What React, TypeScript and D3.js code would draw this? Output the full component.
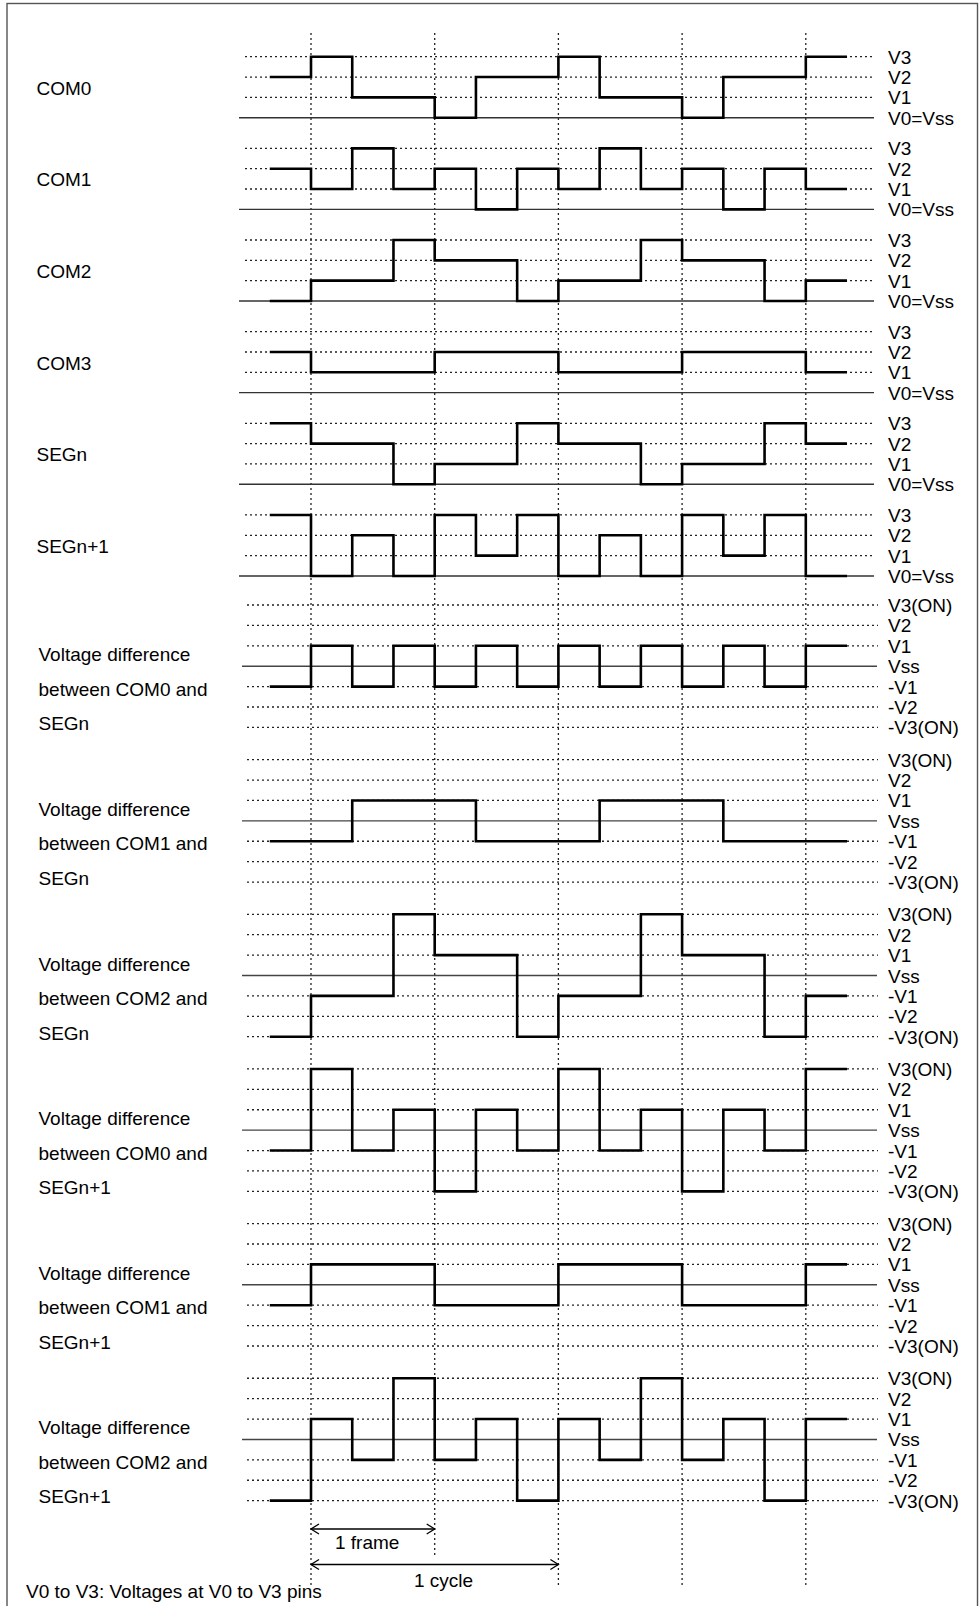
import React from "react";
import * as d3 from "d3";

// time axis: one step = 1/3 frame; t = -1 .. 13
const steps = [-1, 0, 1, 2, 3, 4, 5, 6, 7, 8, 9, 10, 11, 12];
const frameMarks = [0, 3, 6, 9, 12];

// drive waveforms (level index 0..3 = V0..V3), one value per step
const driveNames = ["COM0", "COM1", "COM2", "COM3", "SEGn", "SEGn+1"];
const com0 = [2, 3, 1, 1, 0, 2, 2, 3, 1, 1, 0, 2, 2, 3];
const com1 = [2, 1, 3, 1, 2, 0, 2, 1, 3, 1, 2, 0, 2, 1];
const com2 = [0, 1, 1, 3, 2, 2, 0, 1, 1, 3, 2, 2, 0, 1];
const com3 = [2, 1, 1, 1, 2, 2, 2, 1, 1, 1, 2, 2, 2, 1];
const segN = [3, 2, 2, 0, 1, 1, 3, 2, 2, 0, 1, 1, 3, 2];
const segN1 = [3, 0, 2, 0, 3, 1, 3, 0, 2, 0, 3, 1, 3, 0];
const driveLevels = ["V3", "V2", "V1", "V0=Vss"];

// voltage differences (-3..3)
const diffNames = [
  ["Voltage difference", "between COM0 and", "SEGn"],
  ["Voltage difference", "between COM1 and", "SEGn"],
  ["Voltage difference", "between COM2 and", "SEGn"],
  ["Voltage difference", "between COM0 and", "SEGn+1"],
  ["Voltage difference", "between COM1 and", "SEGn+1"],
  ["Voltage difference", "between COM2 and", "SEGn+1"],
];
const diff0N = [-1, 1, -1, 1, -1, 1, -1, 1, -1, 1, -1, 1, -1, 1];
const diff1N = [-1, -1, 1, 1, 1, -1, -1, -1, 1, 1, 1, -1, -1, -1];
const diff2N = [-3, -1, -1, 3, 1, 1, -3, -1, -1, 3, 1, 1, -3, -1];
const diff0N1 = [-1, 3, -1, 1, -3, 1, -1, 3, -1, 1, -3, 1, -1, 3];
const diff1N1 = [-1, 1, 1, 1, -1, -1, -1, 1, 1, 1, -1, -1, -1, 1];
const diff2N1 = [-3, 1, -1, 3, -1, 1, -3, 1, -1, 3, -1, 1, -3, 1];
const diffLevels = ["V3(ON)", "V2", "V1", "Vss", "-V1", "-V2", "-V3(ON)"];

const drives = [com0, com1, com2, com3, segN, segN1];
const diffs = [diff0N, diff1N, diff2N, diff0N1, diff1N1, diff2N1];

const FONT = "'Liberation Sans', Arial, Helvetica, sans-serif";
const FS = 19;

const x = d3.scaleLinear().domain([0, 12]).range([311, 805.8]);

const stepLine = (y: d3.ScaleLinear<number, number>) =>
  d3
    .line<[number, number]>()
    .x((d) => x(d[0]))
    .y((d) => y(d[1]))
    .curve(d3.curveStepAfter);

const wavePoints = (vals: number[]): [number, number][] => {
  const pts: [number, number][] = steps.map((t, i) => [t, vals[i]]);
  pts.push([13, vals[vals.length - 1]]);
  return pts;
};

export default function App() {
  const driveTop0 = 56.7;
  const driveGap = 91.65;
  const driveStep = 20.33;
  const diffTop0 = 605;
  const diffGap = 154.65;
  const diffStep = 20.4;

  return (
    <svg
      width={980}
      height={1606}
      style={{ position: "absolute", left: 0, top: 0, background: "#fff" }}
      fontFamily={FONT}
    >
      <rect x={0} y={0} width={980} height={1606} fill="#fff" />
      <rect x={7} y={3.5} width={970.5} height={1700} fill="none" stroke="#555" strokeWidth={1.4} />

      {/* vertical frame markers */}
      {frameMarks.map((t) => (
        <line
          key={"v" + t}
          x1={x(t)}
          x2={x(t)}
          y1={33}
          y2={t === 3 ? 1555 : 1586}
          stroke="#222"
          strokeWidth={1.3}
          strokeDasharray="2,3"
        />
      ))}

      {/* drive panels */}
      {drives.map((vals, i) => {
        const top = driveTop0 + i * driveGap;
        const y = d3.scaleLinear().domain([0, 3]).range([top + 3 * driveStep, top]);
        const line = stepLine(y);
        return (
          <g key={"d" + i}>
            {[3, 2, 1].map((lv) => (
              <line
                key={lv}
                x1={245}
                x2={875}
                y1={y(lv)}
                y2={y(lv)}
                stroke="#222"
                strokeWidth={1.3}
                strokeDasharray="2,3"
              />
            ))}
            <line x1={239} x2={874} y1={y(0)} y2={y(0)} stroke="#333" strokeWidth={1.4} />
            <path d={line(wavePoints(vals)) || ""} fill="none" stroke="#000" strokeWidth={2.6} />
            {driveLevels.map((lab, k) => (
              <text key={lab} x={888} y={y(3 - k) + 7} fontSize={FS} fill="#000">
                {lab}
              </text>
            ))}
            <text x={36.5} y={top + 1.5 * driveStep + 7.5} fontSize={FS} fill="#000">
              {driveNames[i]}
            </text>
          </g>
        );
      })}

      {/* difference panels */}
      {diffs.map((vals, j) => {
        const top = diffTop0 + j * diffGap;
        const y = d3.scaleLinear().domain([-3, 3]).range([top + 6 * diffStep, top]);
        const line = stepLine(y);
        return (
          <g key={"f" + j}>
            {[3, 2, 1, -1, -2, -3].map((lv) => (
              <line
                key={lv}
                x1={247}
                x2={878}
                y1={y(lv)}
                y2={y(lv)}
                stroke="#222"
                strokeWidth={1.3}
                strokeDasharray="2,3"
              />
            ))}
            <line x1={242} x2={877} y1={y(0)} y2={y(0)} stroke="#444" strokeWidth={1.4} />
            <path d={line(wavePoints(vals)) || ""} fill="none" stroke="#000" strokeWidth={2.6} />
            {diffLevels.map((lab, k) => (
              <text key={lab} x={888} y={y(3 - k) + 7} fontSize={FS} fill="#000">
                {lab}
              </text>
            ))}
            {diffNames[j].map((ln, k) => (
              <text key={k} x={38.5} y={y(0) - 5 + k * 34.5} fontSize={FS} fill="#000">
                {ln}
              </text>
            ))}
          </g>
        );
      })}

      {/* frame / cycle arrows */}
      {[
        { t1: 0, t2: 3, ay: 1529, label: "1 frame", lx: 335, ly: 1549 },
        { t1: 0, t2: 6, ay: 1564.5, label: "1 cycle", lx: 414, ly: 1587 },
      ].map((a) => {
        const xa = x(a.t1);
        const xb = x(a.t2);
        return (
          <g key={a.label} stroke="#000" strokeWidth={1.3} fill="none">
            <line x1={xa} x2={xb} y1={a.ay} y2={a.ay} />
            <polyline points={`${xa + 8},${a.ay - 5} ${xa},${a.ay} ${xa + 8},${a.ay + 5}`} />
            <polyline points={`${xb - 8},${a.ay - 5} ${xb},${a.ay} ${xb - 8},${a.ay + 5}`} />
            <text x={a.lx} y={a.ly} fontSize={FS} fill="#000" stroke="none">
              {a.label}
            </text>
          </g>
        );
      })}

      <text x={26} y={1597.5} fontSize={FS} fill="#000">
        V0 to V3: Voltages at V0 to V3 pins
      </text>
    </svg>
  );
}
